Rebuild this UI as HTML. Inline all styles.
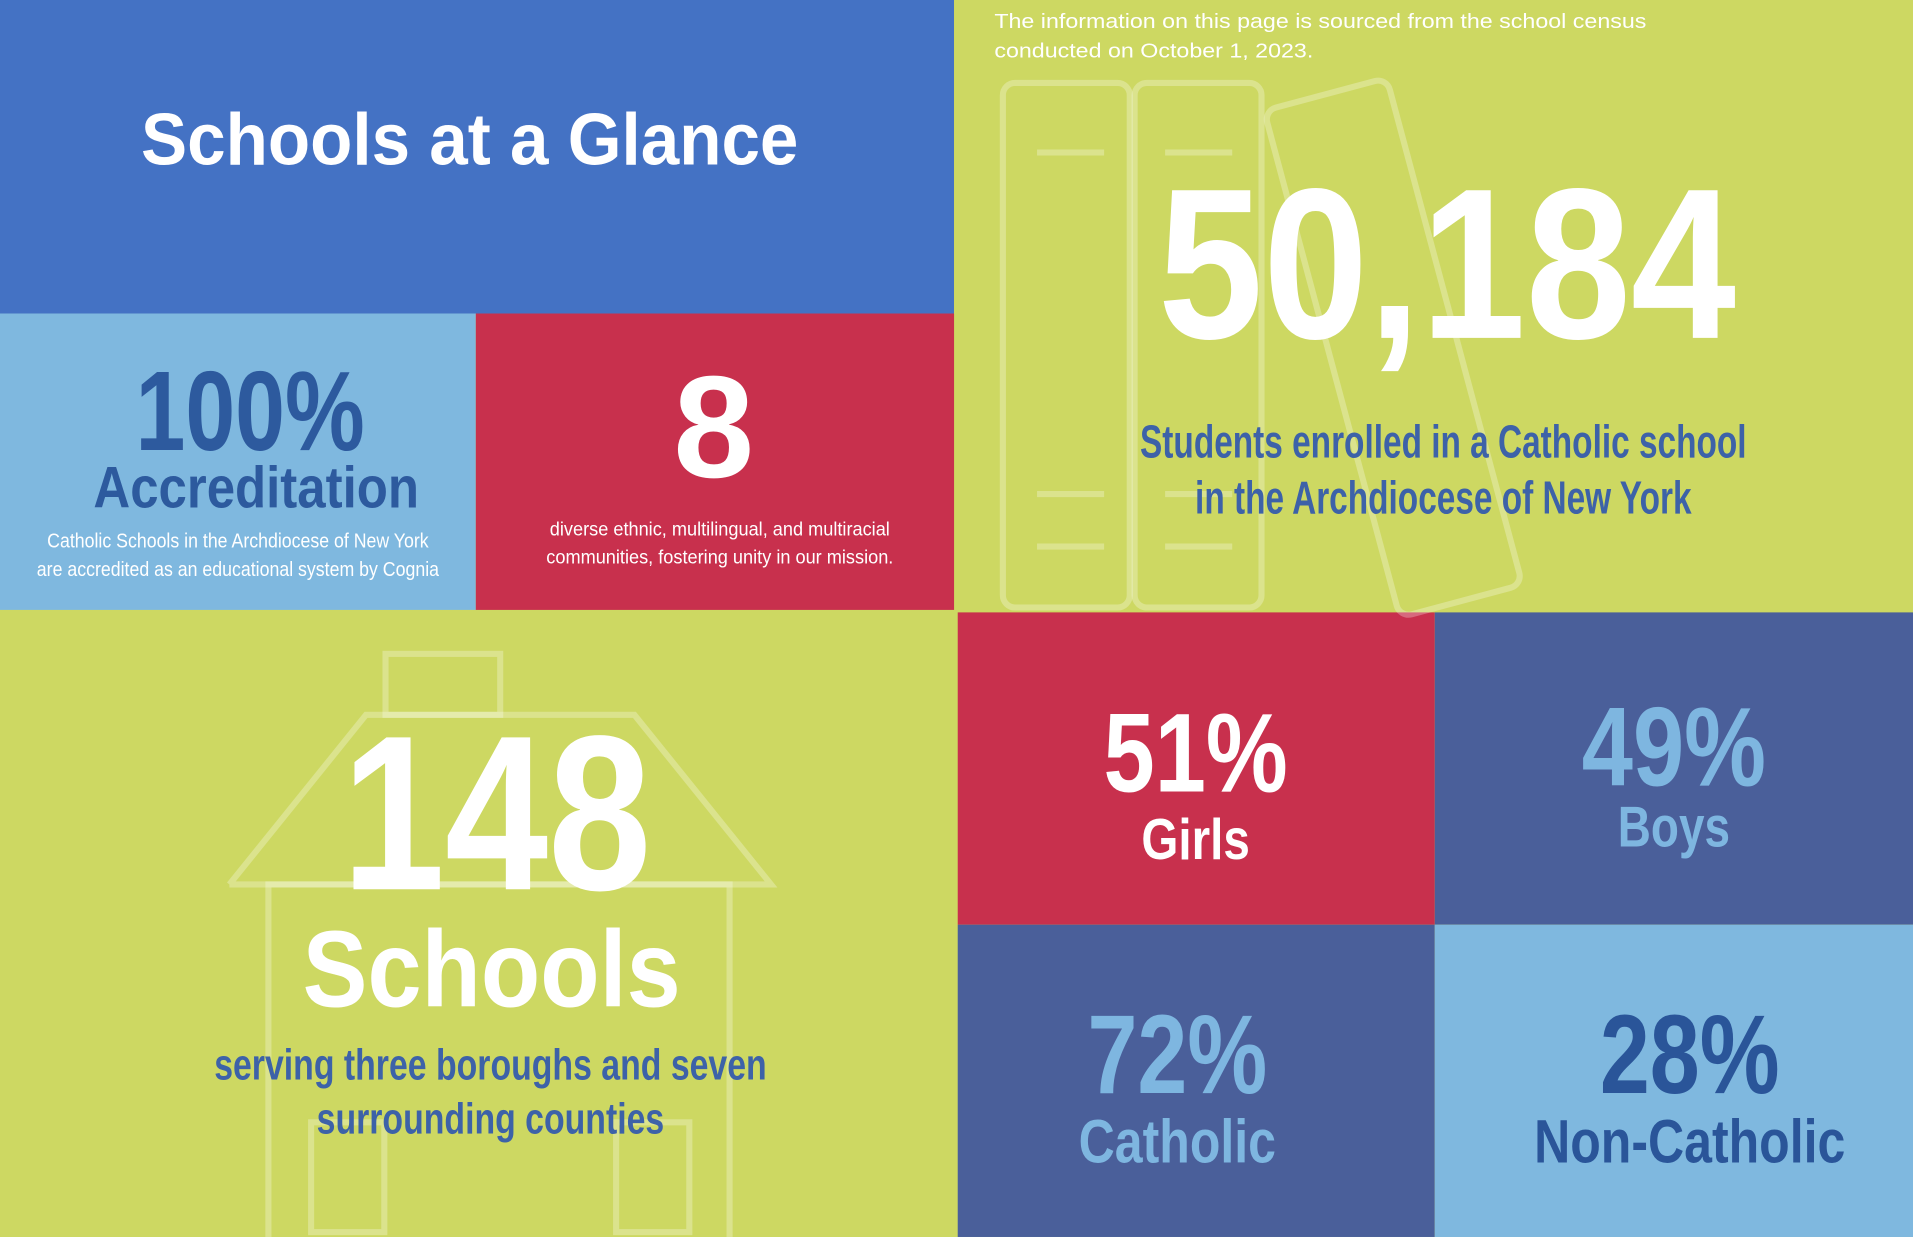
<!DOCTYPE html>
<html><head><meta charset="utf-8"><style>
html,body{margin:0;padding:0;width:1913px;height:1237px;overflow:hidden;background:#CDD862}
#w{position:absolute;left:0;top:0;width:1568px;height:1014px;transform:scale(1.22003,1.2199);transform-origin:0 0;font-family:"Liberation Sans",sans-serif}
.b{position:absolute}
.t{position:absolute;white-space:nowrap;text-align:center;line-height:1;font-weight:bold;transform-origin:50% 50%}
</style></head><body><div id="w">
<div class="b" style="left:0;top:0;width:782px;height:257px;background:#4472C4"></div>
<div class="b" style="left:782px;top:0;width:786px;height:502px;background:#CDD862"></div>
<div class="b" style="left:0;top:257px;width:390px;height:243px;background:#7FB8DF"></div>
<div class="b" style="left:390px;top:257px;width:392px;height:243px;background:#C8304D"></div>
<div class="b" style="left:0;top:500px;width:785px;height:514px;background:#CDD862"></div>
<div class="b" style="left:785px;top:502px;width:391px;height:256px;background:#C8304D"></div>
<div class="b" style="left:1176px;top:502px;width:392px;height:256px;background:#4A5F9A"></div>
<div class="b" style="left:785px;top:758px;width:391px;height:256px;background:#4A5F9A"></div>
<div class="b" style="left:1176px;top:758px;width:392px;height:256px;background:#7FB8DF"></div>
<svg class="b" style="left:0;top:0" width="1568" height="1014" fill="none" stroke="rgba(255,255,255,0.28)" stroke-width="5">
<rect x="822" y="68" width="104" height="430" rx="10"/>
<rect x="930" y="68" width="104" height="430" rx="10"/>
<rect x="1090" y="70" width="104" height="430" rx="10" transform="rotate(-15 1142 285)"/>
<line x1="850" y1="125" x2="905" y2="125"/><line x1="955" y1="125" x2="1010" y2="125"/>
<line x1="850" y1="405" x2="905" y2="405"/><line x1="955" y1="405" x2="1010" y2="405"/>
<line x1="850" y1="448" x2="905" y2="448"/><line x1="955" y1="448" x2="1010" y2="448"/>
<rect x="316" y="536" width="94" height="50"/>
<polyline points="188,725 300,586 520,586 632,725 188,725"/>
<rect x="220" y="725" width="378" height="300"/>
<rect x="255" y="920" width="60" height="90"/><rect x="505" y="920" width="60" height="90"/>
</svg>
<div class="t" style="left:85px;width:600px;top:85px;font-size:60px;color:#fff;transform:scaleX(0.945)">Schools at a Glance</div>
<div class="t" style="left:815px;top:6px;text-align:left;font-weight:normal;font-size:17px;line-height:24px;color:#fff;transform-origin:0 0;transform:scaleX(1.12)">The information on this page is sourced from the school census<br>conducted on October 1, 2023.</div>
<div class="t" style="left:886px;width:600px;top:129px;font-size:176px;color:#fff;transform:scaleX(0.88)">50,184</div>
<div class="t" style="left:783px;width:800px;top:340px;font-size:38px;line-height:46px;color:#3D62A8;transform:scaleX(0.72)">Students enrolled in a Catholic school<br>in the Archdiocese of New York</div>
<div class="t" style="left:5px;width:400px;top:291px;font-size:93px;color:#2D5A9E;transform:scaleX(0.79)">100%</div>
<div class="t" style="left:10px;width:400px;top:377px;font-size:48px;color:#2D5A9E;transform:scaleX(0.87)">Accreditation</div>
<div class="t" style="left:0;width:390px;top:432px;font-size:17px;line-height:23px;font-weight:normal;color:#fff;transform:scaleX(0.855)">Catholic Schools in the Archdiocese of New York<br>are accredited as an educational system by Cognia</div>
<div class="t" style="left:385px;width:400px;top:291px;font-size:119px;color:#fff">8</div>
<div class="t" style="left:390px;width:400px;top:423px;font-size:16px;line-height:23px;font-weight:normal;color:#fff;transform:scaleX(0.93)">diverse ethnic, multilingual, and multiracial<br>communities, fostering unity in our mission.</div>
<div class="t" style="left:107px;width:600px;top:577px;font-size:181px;color:#fff;transform:scaleX(0.84)">148</div>
<div class="t" style="left:103px;width:600px;top:750px;font-size:89px;color:#fff;transform:scaleX(0.895)">Schools</div>
<div class="t" style="left:52px;width:700px;top:851px;font-size:36px;line-height:44px;color:#3D62A8;transform:scaleX(0.77)">serving three boroughs and seven<br>surrounding counties</div>
<div class="t" style="left:780px;width:400px;top:572px;font-size:92px;color:#fff;transform:scaleX(0.82)">51%</div>
<div class="t" style="left:780px;width:400px;top:664px;font-size:47px;color:#fff;transform:scaleX(0.83)">Girls</div>
<div class="t" style="left:1172px;width:400px;top:567px;font-size:92px;color:#7EB6E0;transform:scaleX(0.82)">49%</div>
<div class="t" style="left:1172px;width:400px;top:654px;font-size:47px;color:#7EB6E0;transform:scaleX(0.8)">Boys</div>
<div class="t" style="left:765px;width:400px;top:819px;font-size:92px;color:#7EB6E0;transform:scaleX(0.8)">72%</div>
<div class="t" style="left:765px;width:400px;top:911px;font-size:50px;color:#7EB6E0;transform:scaleX(0.82)">Catholic</div>
<div class="t" style="left:1185px;width:400px;top:819px;font-size:92px;color:#2A5599;transform:scaleX(0.8)">28%</div>
<div class="t" style="left:1185px;width:400px;top:911px;font-size:50px;color:#2A5599;transform:scaleX(0.82)">Non-Catholic</div>
</div></body></html>
